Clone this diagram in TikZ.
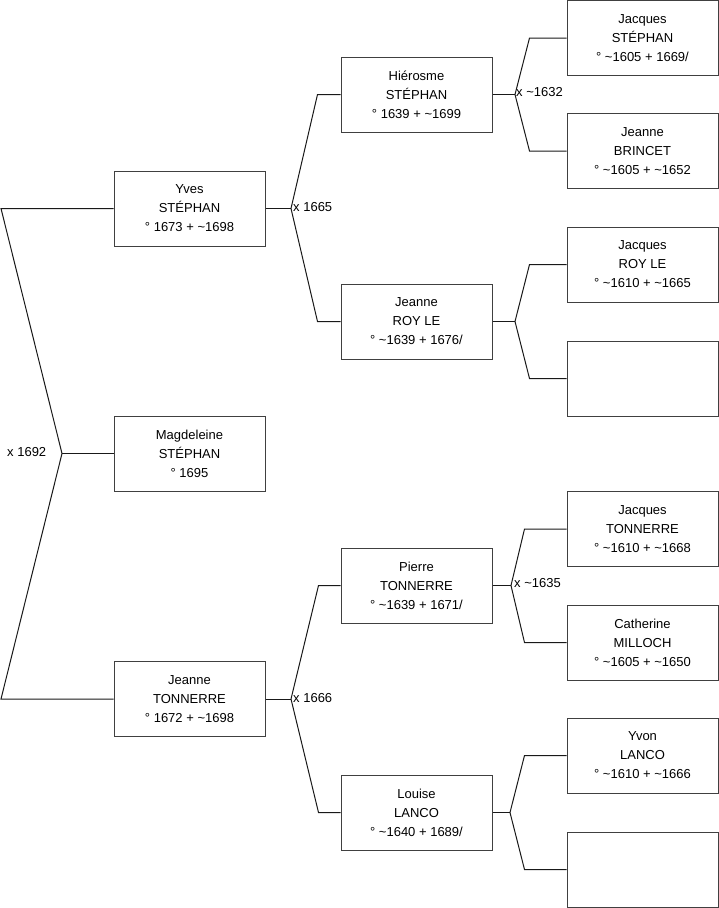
\documentclass[tikz,border=0pt]{standalone}
\usepackage{fontspec}
\setmainfont{Liberation Sans}
\begin{document}
\begin{tikzpicture}[x=1pt,y=-1pt,
  box/.style={draw=black!75,line width=1pt,minimum width=151pt,minimum height=75pt,inner sep=0pt,align=center,font=\fontsize{13}{19}\selectfont},
  conn/.style={draw=black!90,line width=1pt},
  lab/.style={anchor=west,inner sep=0pt,font=\fontsize{13}{19}\selectfont}]
\useasboundingbox (0,0) rectangle (719,908);
% generation 1
\node[box] (yves) at (189.5,208.5) {Yves\\STÉPHAN\\° 1673 + \char`\~1698};
\node[box] (magd) at (189.5,453.5) {Magdeleine\\STÉPHAN\\° 1695};
\node[box] (jton) at (189.5,699) {Jeanne\\TONNERRE\\° 1672 + \char`\~1698};
% generation 2
\node[box] (hier) at (416.5,94.5) {Hiérosme\\STÉPHAN\\° 1639 + \char`\~1699};
\node[box] (jroy) at (416.5,321.5) {Jeanne\\ROY LE\\° \char`\~1639 + 1676/};
\node[box] (pier) at (416.5,585.5) {Pierre\\TONNERRE\\° \char`\~1639 + 1671/};
\node[box] (loui) at (416.5,812.5) {Louise\\LANCO\\° \char`\~1640 + 1689/};
% generation 3
\node[box] (jst) at (642.5,38) {Jacques\\STÉPHAN\\° \char`\~1605 + 1669/};
\node[box] (jbr) at (642.5,151) {Jeanne\\BRINCET\\° \char`\~1605 + \char`\~1652};
\node[box] (jrl) at (642.5,264.5) {Jacques\\ROY LE\\° \char`\~1610 + \char`\~1665};
\node[box] (e1) at (642.5,378.5) {};
\node[box] (jto) at (642.5,529) {Jacques\\TONNERRE\\° \char`\~1610 + \char`\~1668};
\node[box] (cmi) at (642.5,642.5) {Catherine\\MILLOCH\\° \char`\~1605 + \char`\~1650};
\node[box] (yla) at (642.5,755.5) {Yvon\\LANCO\\° \char`\~1610 + \char`\~1666};
\node[box] (e2) at (642.5,869.5) {};
% fork points
\coordinate (f0) at (62,453.5);
\coordinate (f1) at (291,208.5);
\coordinate (f2) at (291,699);
\coordinate (f3) at (515,94.5);
\coordinate (f4) at (515,321.5);
\coordinate (f5) at (511,585.5);
\coordinate (f6) at (510,812.5);
% connectors
\draw[conn] (yves.west) -- (1,208.5) -- (f0);
\draw[conn] (jton.west) -- (1,699) -- (f0);
\draw[conn] (magd.west) -- (f0);
\draw[conn] (yves.east) -- (f1);
\draw[conn] (hier.west) -- ++(-23,0) -- (f1);
\draw[conn] (jroy.west) -- ++(-23,0) -- (f1);
\draw[conn] (jton.east) -- (f2);
\draw[conn] (pier.west) -- ++(-22,0) -- (f2);
\draw[conn] (loui.west) -- ++(-22,0) -- (f2);
\draw[conn] (hier.east) -- (f3);
\draw[conn] (jst.west) -- ++(-37,0) -- (f3);
\draw[conn] (jbr.west) -- ++(-37,0) -- (f3);
\draw[conn] (jroy.east) -- (f4);
\draw[conn] (jrl.west) -- ++(-37,0) -- (f4);
\draw[conn] (e1.west) -- ++(-37,0) -- (f4);
\draw[conn] (pier.east) -- (f5);
\draw[conn] (jto.west) -- ++(-42,0) -- (f5);
\draw[conn] (cmi.west) -- ++(-42,0) -- (f5);
\draw[conn] (loui.east) -- (f6);
\draw[conn] (yla.west) -- ++(-42,0) -- (f6);
\draw[conn] (e2.west) -- ++(-42,0) -- (f6);
% labels
\node[lab] (l0) at (7,452) {x 1692};
\node[lab] (l1) at (293,207.5) {x 1665};
\node[lab] (l2) at (516,92.5) {x \char`\~1632};
\node[lab] (l3) at (514,583.5) {x \char`\~1635};
\node[lab] (l4) at (293,698) {x 1666};
\end{tikzpicture}
\end{document}
